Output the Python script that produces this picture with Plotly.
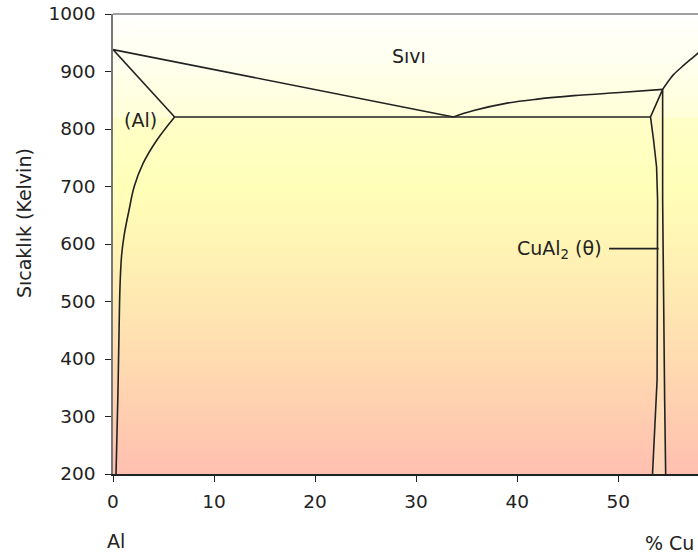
import plotly.graph_objects as go

# ---- data (wt% Cu, Kelvin) ----
liq_left_x = [0, 33.7]
liq_left_y = [938, 821]

solidus_x = [0, 6.1]
solidus_y = [938, 821]

solvus_x = [6.1, 4.35, 3.0, 2.1, 1.6, 1.1, 0.85, 0.7, 0.6, 0.5, 0.38, 0.3]
solvus_y = [821, 781, 741, 700, 660, 615, 580, 530, 450, 350, 260, 200]

eutectic_x = [6.1, 53.2]
eutectic_y = [821, 821]

liq_right_x = [33.7, 35.7, 39.0, 42.0, 45.6, 50.5, 54.4]
liq_right_y = [821, 832, 845, 852, 858, 864, 869]

theta_left_x = [54.4, 53.2, 53.5, 53.8, 53.9, 53.85, 53.4]
theta_left_y = [869, 821, 781, 734, 676, 363, 200]

theta_right_x = [54.4, 54.4, 54.6, 54.7]
theta_right_y = [869, 676, 328, 200]

liq_upper_x = [54.4, 55.0, 55.5, 56.5, 57.5, 58.3]
liq_upper_y = [869, 884, 895, 911, 926, 938]

leader_x = [49.1, 54.0]
leader_y = [592, 592]

x_ticks = [0, 10, 20, 30, 40, 50]
y_ticks = [200, 300, 400, 500, 600, 700, 800, 900, 1000]

# background gradient (temperature -> colour)
bg_y = [200, 1000]
bg_x = [-1, 60]
bg_scale = [
    [0.00, "#ffbfb0"],
    [0.125, "#ffcdb0"],
    [0.25, "#ffdbb0"],
    [0.375, "#ffe8b2"],
    [0.50, "#fff4b4"],
    [0.62, "#ffffb8"],
    [0.7749, "#ffffc8"],
    [0.7762, "#ffffd8"],
    [0.90, "#fffff0"],
    [1.00, "#fffffc"],
]

LINE = dict(color="#222222", width=1.6)
FONT = "DejaVu Sans, Verdana, sans-serif"

fig = go.Figure()

fig.add_trace(go.Heatmap(
    x=bg_x, y=bg_y, z=[[bg_y[0], bg_y[0]], [bg_y[1], bg_y[1]]],
    zmin=200, zmax=1000, colorscale=bg_scale, zsmooth="best",
    showscale=False, hoverinfo="skip"))

# light fill inside theta phase
fig.add_trace(go.Scatter(
    x=theta_left_x[1:] + theta_right_x[::-1],
    y=theta_left_y[1:] + theta_right_y[::-1],
    fill="toself", fillcolor="rgba(255,240,200,0.45)",
    line=dict(width=0), mode="lines", hoverinfo="skip", showlegend=False))

for xs, ys, shp in [
    (liq_left_x, liq_left_y, "linear"),
    (solidus_x, solidus_y, "linear"),
    (solvus_x, solvus_y, "spline"),
    (eutectic_x, eutectic_y, "linear"),
    (liq_right_x, liq_right_y, "spline"),
    (theta_left_x, theta_left_y, "linear"),
    (theta_right_x, theta_right_y, "linear"),
    (liq_upper_x, liq_upper_y, "spline"),
    (leader_x, leader_y, "linear"),
]:
    fig.add_trace(go.Scatter(x=xs, y=ys, mode="lines",
                             line=dict(color=LINE["color"], width=LINE["width"], shape=shp),
                             hoverinfo="skip", showlegend=False))

# top border
fig.add_shape(type="line", xref="paper", yref="paper", x0=0, x1=1, y0=1, y1=1,
              line=dict(color="#a0a0a0", width=2), layer="above")

ann_font = dict(family=FONT, size=19, color="#222222")
fig.add_annotation(x=29.3, y=927, text="Sıvı", showarrow=False, font=ann_font)
fig.add_annotation(x=2.7, y=816, text="(Al)", showarrow=False, font=ann_font)
fig.add_annotation(x=48.6, y=591, text="CuAl<sub>2</sub> (θ)", showarrow=False,
                   xanchor="right", yanchor="middle", font=ann_font)
fig.add_annotation(x=0.3, y=-0.145, xref="x", yref="paper", text="Al",
                   showarrow=False, yanchor="middle", font=ann_font)
fig.add_annotation(x=52.5, y=-0.149, xref="x", yref="paper", text="% Cu",
                   showarrow=False, xanchor="left", yanchor="middle", font=ann_font)
fig.add_annotation(x=-0.152, y=0.5457, xref="paper", yref="paper",
                   text="Sıcaklık (Kelvin)", textangle=-90, showarrow=False,
                   xanchor="center", yanchor="middle", font=ann_font)

fig.update_layout(
    width=698, height=556,
    margin=dict(l=113, r=0, t=14, b=82, autoexpand=False),
    paper_bgcolor="white", plot_bgcolor="white",
    showlegend=False,
    font=dict(family=FONT, size=18.5, color="#222222"),
)
fig.update_xaxes(range=[0, 57.9], tickvals=x_ticks, ticks="outside", ticklen=6,
                 tickcolor="#222222", showline=True, linecolor="#222222", linewidth=1.5,
                 showgrid=False, zeroline=False, ticklabelstandoff=4,
                 ticklabeloverflow="allow", automargin=False)
fig.update_yaxes(range=[200, 1000], tickvals=y_ticks, ticks="outside", ticklen=6,
                 tickcolor="#222222", showline=True, linecolor="#777777", linewidth=1.5,
                 showgrid=False, zeroline=False, ticklabelstandoff=6,
                 ticklabeloverflow="allow", automargin=False)

fig.write_html(
    "out.html",
    config={"displayModeBar": False},
    post_script="document.body.style.margin='0';"
                "document.documentElement.style.overflow='hidden';"
                "document.body.style.overflow='hidden';",
)
